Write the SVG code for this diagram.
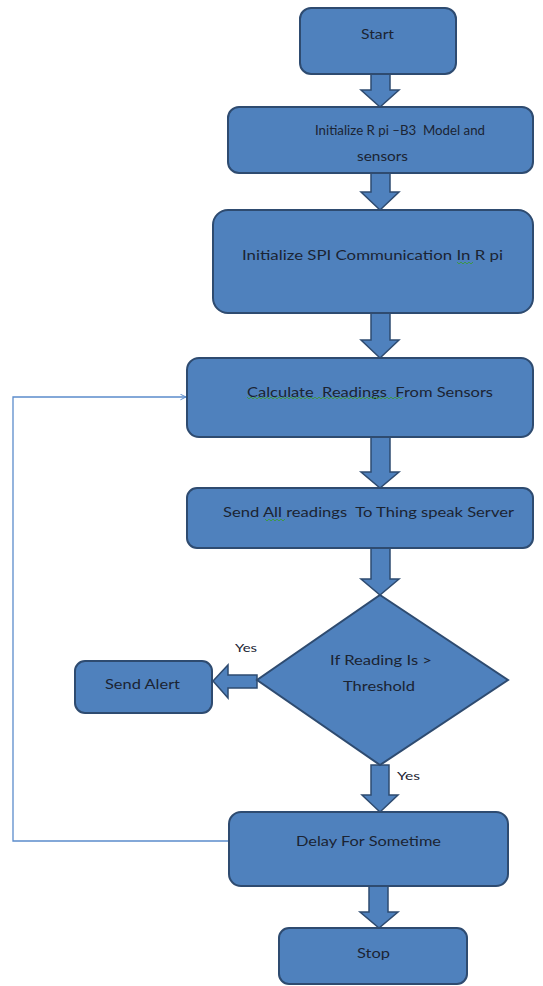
<svg xmlns="http://www.w3.org/2000/svg" width="543" height="986" viewBox="0 0 543 986">
  <defs>
    <style>
      .box { fill: #4F81BD; stroke: #2E4B70; stroke-width: 2; }
      .blk { fill: #4F81BD; stroke: #2E4B70; stroke-width: 1.5; stroke-linejoin: miter; }
      .lbl { font-family: Lato, "Open Sans", "Liberation Sans", sans-serif; font-size: 14px; fill: #1B2433; text-anchor: start; dominant-baseline: central; }
      .yes { font-family: Lato, "Open Sans", "Liberation Sans", sans-serif; font-size: 12px; fill: #1B2433; dominant-baseline: central; }
      .loop { fill: none; stroke: #5B8CCB; stroke-width: 1.3; }
      .squig { fill: none; stroke: #3C9A3C; stroke-width: 0.9; }
    </style>
    <marker id="openHead" viewBox="0 0 10 10" refX="9" refY="5" markerWidth="7" markerHeight="7" orient="auto" markerUnits="userSpaceOnUse">
      <path d="M1,1 L9,5 L1,9" fill="none" stroke="#5B8CCB" stroke-width="1.4"/>
    </marker>
  </defs>

  <rect width="543" height="986" fill="#ffffff"/>

  <!-- connectors: block arrows and the loop-back line -->
  <g id="connectors">
    <!-- Start -> Initialize R pi -->
    <polygon class="blk" points="371,73 390,73 390,90 399,90 380,107 361,90 371,90"/>
    <!-- Initialize R pi -> SPI -->
    <polygon class="blk" points="371,172 390,172 390,192 399,192 380,210 361,192 371,192"/>
    <!-- SPI -> Calculate -->
    <polygon class="blk" points="371,312 390,312 390,340 399,340 380,358 361,340 371,340"/>
    <!-- Calculate -> Send All -->
    <polygon class="blk" points="371,437 390,437 390,472 399,472 380,488 361,472 371,472"/>
    <!-- Send All -> decision -->
    <polygon class="blk" points="371,548 390,548 390,579 399,579 380,595 361,579 371,579"/>
    <!-- decision -> Send Alert -->
    <polygon class="blk" points="257,675 228,675 228,665 213,681 228,698 228,688 257,688"/>
    <!-- decision -> Delay -->
    <polygon class="blk" points="371,765 389,765 389,795 398,795 380,812 362,795 371,795"/>
    <!-- Delay -> Stop -->
    <polygon class="blk" points="369,886 388,886 388,912 398,912 379,928 360,912 369,912"/>
    <!-- loop back from Delay to Calculate -->
    <path class="loop" d="M230,841 H13 V397 H186" marker-end="url(#openHead)"/>
  </g>

  <g id="start">
    <rect class="box" x="300" y="8" width="156" height="66" rx="11"/>
    <text class="lbl" x="361" y="33" textLength="33" lengthAdjust="spacingAndGlyphs">Start</text>
  </g>

  <g id="init-rpi">
    <rect class="box" x="228" y="107" width="305" height="66" rx="11"/>
    <text class="lbl" x="315" y="129" textLength="170" lengthAdjust="spacingAndGlyphs" xml:space="preserve">Initialize R pi –B3  Model and</text>
    <text class="lbl" x="357" y="155" textLength="51" lengthAdjust="spacingAndGlyphs">sensors</text>
  </g>

  <g id="init-spi">
    <rect class="box" x="213" y="210" width="320" height="103" rx="15"/>
    <text class="lbl" x="242" y="254" textLength="261" lengthAdjust="spacingAndGlyphs">Initialize SPI Communication In R pi</text>
    <path class="squig" d="M457,262 l2,2 l2,-2 l2,2 l2,-2 l2,2 l2,-2 l2,2 l2,-2"/>
  </g>

  <g id="calculate">
    <rect class="box" x="187" y="358" width="346" height="79" rx="12"/>
    <text class="lbl" x="247" y="391" textLength="246" lengthAdjust="spacingAndGlyphs" xml:space="preserve">Calculate  Readings  From Sensors</text>
    <path class="squig" d="M247,397 l2,2 l2,-2 l2,2 l2,-2 l2,2 l2,-2 l2,2 l2,-2 l2,2 l2,-2 l2,2 l2,-2 l2,2 l2,-2 l2,2 l2,-2 l2,2 l2,-2 l2,2 l2,-2 l2,2 l2,-2 l2,2 l2,-2 l2,2 l2,-2 l2,2 l2,-2 l2,2 l2,-2 l2,2 l2,-2 l2,2 l2,-2 l2,2 l2,-2 l2,2 l2,-2 l2,2 l2,-2 l2,2 l2,-2 l2,2 l2,-2 l2,2 l2,-2 l2,2 l2,-2 l2,2 l2,-2 l2,2 l2,-2 l2,2 l2,-2 l2,2 l2,-2 l2,2 l2,-2 l2,2 l2,-2 l2,2 l2,-2 l2,2 l2,-2 l2,2 l2,-2 l2,2 l2,-2 l2,2 l2,-2 l2,2 l2,-2 l2,2 l2,-2 l2,2 l2,-2 l2,2 l2,-2"/>
  </g>

  <g id="send-all">
    <rect class="box" x="187" y="488" width="346" height="60" rx="10"/>
    <text class="lbl" x="223" y="511" textLength="291" lengthAdjust="spacingAndGlyphs" xml:space="preserve">Send All readings  To Thing speak Server</text>
    <path class="squig" d="M265,519 l2,2 l2,-2 l2,2 l2,-2 l2,2 l2,-2 l2,2 l2,-2 l2,2 l2,-2"/>
  </g>

  <g id="decision">
    <polygon class="box" points="380,595 508,680 380,765 257,680"/>
    <text class="lbl" x="330" y="659" textLength="102" lengthAdjust="spacingAndGlyphs">If Reading Is &gt;</text>
    <text class="lbl" x="343" y="685" textLength="72" lengthAdjust="spacingAndGlyphs">Threshold</text>
  </g>

  <g id="send-alert">
    <rect class="box" x="75" y="661" width="137" height="52" rx="10"/>
    <text class="lbl" x="105" y="683" textLength="75" lengthAdjust="spacingAndGlyphs">Send Alert</text>
  </g>

  <g id="yes-labels">
    <text class="yes" x="235" y="647" textLength="22" lengthAdjust="spacingAndGlyphs">Yes</text>
    <text class="yes" x="397" y="775" textLength="23" lengthAdjust="spacingAndGlyphs">Yes</text>
  </g>

  <g id="delay">
    <rect class="box" x="229" y="812" width="279" height="74" rx="12"/>
    <text class="lbl" x="296" y="840" textLength="145" lengthAdjust="spacingAndGlyphs">Delay For Sometime</text>
  </g>

  <g id="stop">
    <rect class="box" x="279" y="928" width="188" height="56" rx="10"/>
    <text class="lbl" x="357" y="952" textLength="33" lengthAdjust="spacingAndGlyphs">Stop</text>
  </g>
</svg>
